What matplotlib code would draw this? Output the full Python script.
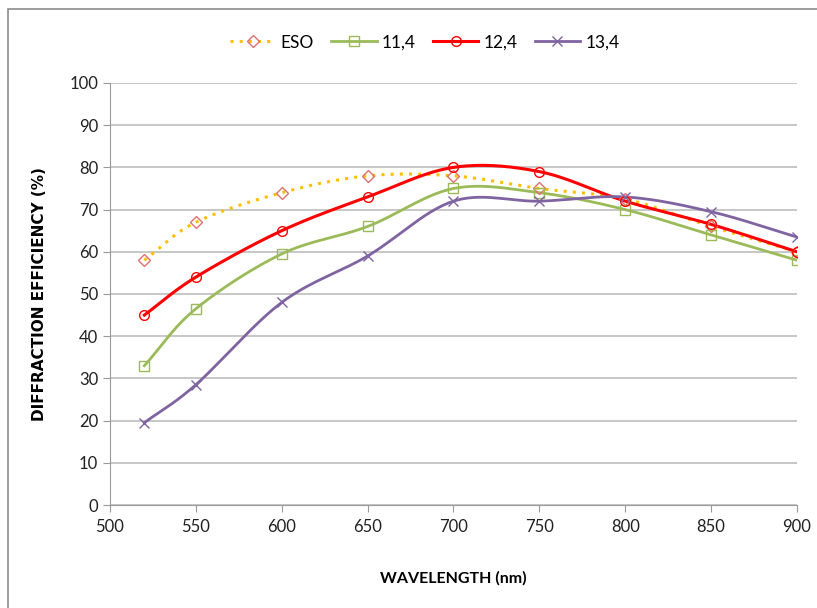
import numpy as np
import matplotlib
matplotlib.use("Agg")
import matplotlib.pyplot as plt
from matplotlib.patches import Rectangle

plt.rcParams['font.family'] = ['Lato', 'DejaVu Sans']

# wavelengths (nm) and efficiencies (%)
wavelength = [520, 550, 600, 650, 700, 750, 800, 850, 900]
eso = [58, 67, 74, 78, 78, 75, 72.5, 66, 60]
g11 = [33, 46.5, 59.5, 66, 75, 74, 70, 64, 58]
g12 = [45, 54, 65, 73, 80, 79, 72, 66.5, 60]
g13 = [19.5, 28.5, 48, 59, 72, 72, 73, 69.5, 63.5]

labels = ['ESO', '11,4', '12,4', '13,4']


def smooth(x, y, n=30):
    # Catmull-Rom curve through the points, like Excel's smoothed line
    x = np.asarray(x, float)
    y = np.asarray(y, float)
    px = np.concatenate([[2 * x[0] - x[1]], x, [2 * x[-1] - x[-2]]])
    py = np.concatenate([[2 * y[0] - y[1]], y, [2 * y[-1] - y[-2]]])
    xs, ys = [], []
    t = np.linspace(0, 1, n, endpoint=False)
    for i in range(1, len(px) - 2):
        for p, out in ((px, xs), (py, ys)):
            p0, p1, p2, p3 = p[i - 1], p[i], p[i + 1], p[i + 2]
            out.extend(0.5 * (2 * p1 + (-p0 + p2) * t
                              + (2 * p0 - 5 * p1 + 4 * p2 - p3) * t ** 2
                              + (-p0 + 3 * p1 - 3 * p2 + p3) * t ** 3))
    xs.append(x[-1])
    ys.append(y[-1])
    return np.array(xs), np.array(ys)


fig = plt.figure(figsize=(8.17, 6.08), dpi=100)
ax = fig.add_axes([0.1346, 0.1694, 0.8409, 0.6941])

fig.patches.append(Rectangle((0.010, -0.01), 1.0, 0.995, transform=fig.transFigure,
                             fill=False, edgecolor='#8c8c8c', linewidth=1.2))

styles = [
    dict(color='#FFC000', ls=(0, (1, 2)), lw=2.2, marker='D', mec='#E07070', ms=6),
    dict(color='#9BBB59', ls='-', lw=2.0, marker='s', mec='#9BBB59', ms=7),
    dict(color='#FF0000', ls='-', lw=2.2, marker='o', mec='#FF0000', ms=7),
    dict(color='#8064A2', ls='-', lw=2.0, marker='x', mec='#8064A2', ms=7),
]

handles = []
for ys, lab, st in zip([eso, g11, g12, g13], labels, styles):
    sx, sy = smooth(wavelength, ys)
    ax.plot(sx, sy, color=st['color'], ls=st['ls'], lw=st['lw'], zorder=3)
    ax.plot(wavelength, ys, ls='none', marker=st['marker'], mfc='none',
            mec=st['mec'], ms=st['ms'], mew=1.0, zorder=4)
    h, = ax.plot([], [], color=st['color'], ls=st['ls'], lw=st['lw'],
                 marker=st['marker'], mfc='none', mec=st['mec'], ms=st['ms'], mew=1.0)
    handles.append(h)

ax.set_xlim(500, 900)
ax.set_ylim(0, 100)
ax.set_xticks(range(500, 901, 50))
ax.set_yticks(range(0, 101, 10))
ax.grid(axis='y', color='#bdbdbd', lw=1.2)
ax.set_axisbelow(True)
for s in ['top', 'right']:
    ax.spines[s].set_visible(False)
for s in ['left', 'bottom']:
    ax.spines[s].set_color('#9a9a9a')
ax.tick_params(axis='both', colors='#9a9a9a', labelcolor='#222222', labelsize=12, length=5)
ax.tick_params(axis='x', pad=5)

ax.set_xlabel('WAVELENGTH (nm)', fontsize=11.5, fontweight='bold', labelpad=26)
ax.set_ylabel('DIFFRACTION EFFICIENCY (%)', fontsize=11, fontweight='bold',
              family=['DejaVu Sans'], labelpad=16)

fig.legend(handles, labels, loc='center', bbox_to_anchor=(0.52, 0.93), ncol=4,
           frameon=False, fontsize=12.5, handlelength=2.6, columnspacing=1.0,
           handletextpad=0.3)

fig.savefig('out.png', dpi=100)
